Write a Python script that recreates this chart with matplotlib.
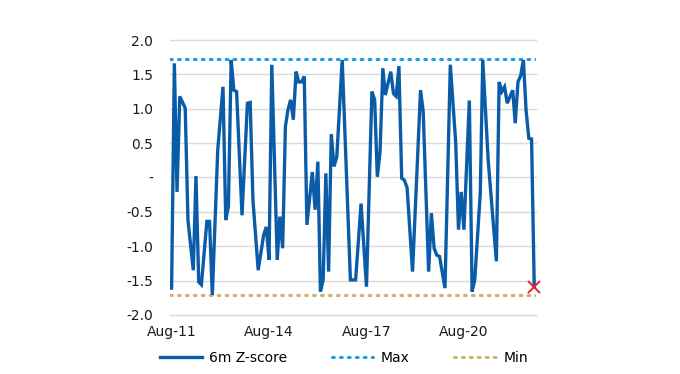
import matplotlib
matplotlib.use("Agg")
import matplotlib.pyplot as plt
from matplotlib.lines import Line2D
import pandas as pd

plt.rcParams['font.family'] = ['DejaVu Sans']

# month offsets from Aug-2011 and 6m Z-score values (vertices)
month_offsets = [0, 1, 2, 3, 5, 6, 8, 9, 10, 11, 13, 14, 15, 17, 19, 20, 21, 22, 23, 24,
                 26, 28, 29, 30, 32, 34, 35, 36, 37, 39, 40, 41, 42, 43, 44, 45, 46, 47, 48,
                 49, 50, 52, 53, 54, 55, 56, 57, 58, 59, 60, 61, 63, 66, 68, 70, 72, 74, 75,
                 76, 77, 78, 79, 81, 82, 83, 84, 85, 86, 87, 89, 92, 93, 95, 96, 97, 98, 99,
                 101, 103, 105, 106, 107, 108, 110, 111, 112, 114, 115, 117, 120, 121, 122,
                 123, 124, 126, 127, 128, 129, 130, 131, 132, 133, 134]
zscore = [-1.61, 1.66, -0.21, 1.18, 1.01, -0.62, -1.35, 0.02, -1.52, -1.56, -0.64, -0.64,
          -1.71, 0.40, 1.32, -0.62, -0.42, 1.71, 1.27, 1.25, -0.55, 1.08, 1.09, -0.33,
          -1.35, -0.84, -0.72, -1.20, 1.64, -1.20, -0.57, -1.03, 0.74, 0.98, 1.13, 0.84,
          1.54, 1.39, 1.39, 1.47, -0.69, 0.08, -0.47, 0.23, -1.66, -1.49, 0.06, -1.37,
          0.63, 0.16, 0.30, 1.71, -1.49, -1.49, -0.38, -1.59, 1.25, 1.13, 0.01, 0.38,
          1.59, 1.20, 1.54, 1.22, 1.18, 1.62, -0.01, -0.04, -0.15, -1.37, 1.27, 0.96,
          -1.37, -0.52, -1.03, -1.13, -1.15, -1.61, 1.64, 0.50, -0.76, -0.21, -0.76,
          1.12, -1.66, -1.49, -0.23, 1.71, 0.25, -1.22, 1.39, 1.25, 1.32, 1.08, 1.27,
          0.79, 1.39, 1.48, 1.71, 0.98, 0.57, 0.56, -1.59]
max_value = 1.72
min_value = -1.71
start = "2011-08-01"
xtick_dates = ["2011-08-01", "2014-08-01", "2017-08-01", "2020-08-01"]
xtick_labels = ["Aug-11", "Aug-14", "Aug-17", "Aug-20"]
yticks = [2.0, 1.5, 1.0, 0.5, 0.0, -0.5, -1.0, -1.5, -2.0]
ytick_labels = ["2.0", "1.5", "1.0", "0.5", "-", "-0.5", "-1.0", "-1.5", "-2.0"]

dates = [pd.Timestamp(start) + pd.DateOffset(months=m) for m in month_offsets]

BLUE = "#0B5CA8"
LIGHTBLUE = "#1A9FDB"
KHAKI = "#C9B46C"
RED = "#E8242C"

fig = plt.figure(figsize=(6.8, 3.74), dpi=100)
ax = fig.add_axes([0.25, 0.158, 0.538, 0.735])

for y in yticks:
    ax.axhline(y, color="#D9D9D9", lw=1.0, zorder=0, clip_on=False)

ax.axhline(max_value, color=LIGHTBLUE, lw=2.2, ls=(0, (0.6, 2.0)), dash_capstyle="round",
           zorder=2)
ax.axhline(min_value, color=KHAKI, lw=2.2, ls=(0, (0.6, 2.0)), dash_capstyle="round",
           zorder=2)
ax.plot(dates, zscore, color=BLUE, lw=2.4, zorder=3, solid_joinstyle="miter")
ax.plot([dates[-1]], [zscore[-1]], marker="x", color=RED, ms=8, mew=1.4, zorder=4,
        clip_on=False)

ax.set_ylim(-2.0, 2.0)
ax.set_xlim(pd.Timestamp(start) - pd.Timedelta(days=18),
            dates[-1] + pd.Timedelta(days=18))
ax.set_yticks(yticks)
ax.set_yticklabels(ytick_labels)
ax.set_xticks([pd.Timestamp(d) for d in xtick_dates])
ax.set_xticklabels(xtick_labels)
ax.tick_params(axis="both", length=0, labelsize=10, colors="#1a1a1a")
ax.tick_params(axis="y", pad=12)
ax.tick_params(axis="x", pad=7)
for s in ax.spines.values():
    s.set_visible(False)

handles = [
    Line2D([], [], color=BLUE, lw=2.4),
    Line2D([], [], color=LIGHTBLUE, lw=2.2, ls=(0, (0.6, 2.0)), dash_capstyle="round"),
    Line2D([], [], color=KHAKI, lw=2.2, ls=(0, (0.6, 2.0)), dash_capstyle="round"),
]
fig.legend(handles, ["6m Z-score", "Max", "Min"], loc="center",
           bbox_to_anchor=(0.506, 0.043), ncol=3, frameon=False, fontsize=10,
           handlelength=3.0, columnspacing=3.2, handletextpad=0.55)

fig.savefig("out.png", dpi=100)
